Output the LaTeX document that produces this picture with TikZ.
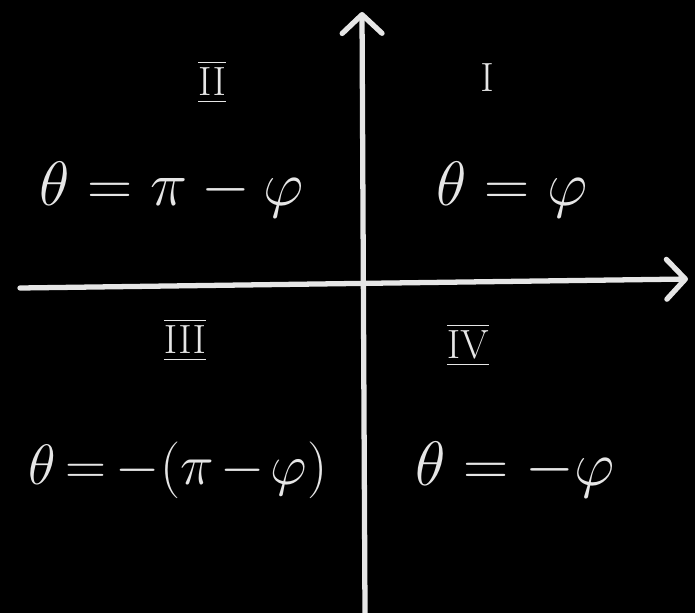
\documentclass[tikz,border=0pt]{standalone}
\usepackage{amsmath,amssymb}
\usetikzlibrary{arrows.meta}
\definecolor{chalk}{HTML}{E6E6E6}
\tikzset{
  axis/.style={draw=chalk, line width=4.5pt, line cap=round,
    -{Straight Barb[length=16pt, width=34pt, line width=4.5pt, round]}},
  quad/.style={text=chalk, font=\fontsize{24}{28}\selectfont, scale=1.4},
  rel/.style={text=chalk, font=\fontsize{24}{28}\selectfont, scale=2.15},
  tightrel/.style={rel, scale=1.95/2.15,
    execute at begin node={\thickmuskip=3mu\medmuskip=2mu}}
}
\newcommand{\quadnum}[1]{$\overline{\underline{\mathrm{#1}}}$}
\begin{document}
\begin{tikzpicture}[x=0.03cm, y=-0.03cm]
  \fill[black] (0,0) rectangle (695,613);
  \useasboundingbox (0,0) rectangle (695,613);
  % axes
  \coordinate (xl) at (20,288);
  \coordinate (xr) at (688,279);
  \coordinate (yb) at (365,613);
  \coordinate (yt) at (362,12);
  \draw[axis] (xl) -- (xr);
  \draw[axis] (yb) -- (yt);
  % quadrant numerals
  \node[quad] (q1) at (487,78) {$\mathrm{I}$};
  \node[quad] (q2) at (212,82) {\quadnum{II}};
  \node[quad] (q3) at (185,340) {\quadnum{III}};
  \node[quad] (q4) at (468,345) {\quadnum{IV}};
  % angle relations
  \node[rel] (r1) at (512,190) {$\theta = \varphi$};
  \node[rel] (r2) at (172,190) {$\theta = \pi - \varphi$};
  \node[tightrel] (r3) at (178,470) {$\theta = -(\pi - \varphi)$};
  \node[rel] (r4) at (515,470) {$\theta = -\varphi$};
\end{tikzpicture}
\end{document}
